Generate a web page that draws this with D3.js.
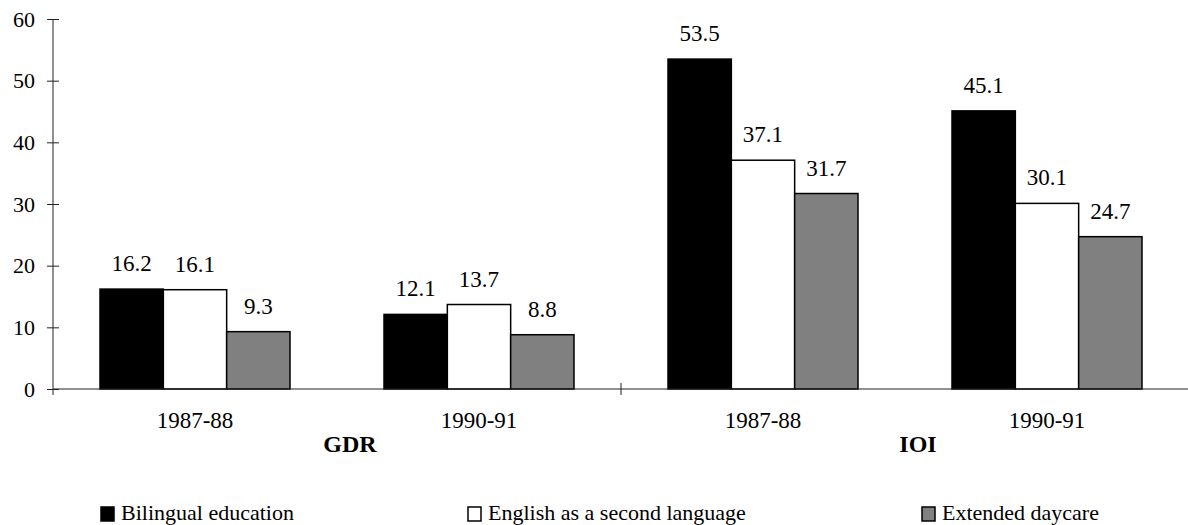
<!DOCTYPE html>
<html>
<head>
<meta charset="utf-8">
<script src="https://cdn.jsdelivr.net/npm/d3@7"></script>
<style>
  body { margin: 0; background: #fff; }
  text { font-family: "Liberation Serif", "Times New Roman", serif; fill: #000; }
</style>
</head>
<body>
<svg id="chart" width="1188" height="525"></svg>
<script>
	// data
	var programs = ["GDR", "IOI"];
	var years = ["1987-88", "1990-91"];
	var seriesNames = ["Bilingual education", "English as a second language", "Extended daycare"];
	var bilingual = [16.2, 12.1, 53.5, 45.1];
	var esl = [16.1, 13.7, 37.1, 30.1];
	var daycare = [9.3, 8.8, 31.7, 24.7];
	var yTicks = [0, 10, 20, 30, 40, 50, 60];

	var colors = ["#000000", "#ffffff", "#808080"];
	var seriesVals = [bilingual, esl, daycare];

	var groups = [];
	programs.forEach(function (p) {
		years.forEach(function (yr) { groups.push({program: p, year: yr, key: p + " " + yr}); });
	});

	var svg = d3.select("#chart");
	var plotLeft = 53, plotRight = 1189, plotTop = 19, base = 389;

	var x0 = d3.scaleBand()
		.domain(groups.map(function (g) { return g.key; }))
		.range([plotLeft, plotRight])
		.paddingInner(0.331)
		.paddingOuter(0.1655);

	var x1 = d3.scaleBand()
		.domain(d3.range(seriesNames.length))
		.range([0, x0.bandwidth()]);

	var y = d3.scaleLinear().domain([0, 60]).range([base, plotTop]);

	// y axis
	var yAxis = svg.append("g")
		.attr("transform", "translate(" + plotLeft + ",0)")
		.call(d3.axisLeft(y).tickValues(yTicks).tickSize(6).tickSizeOuter(0).tickPadding(12));
	yAxis.select(".domain").remove();
	yAxis.selectAll(".tick line").attr("x1", -6).attr("x2", 6).attr("stroke", "#222");
	yAxis.selectAll(".tick text")
		.style("font-size", "22px")
		.style("font-family", "'Liberation Serif', 'Times New Roman', serif");
	svg.append("line")
		.attr("x1", plotLeft).attr("x2", plotLeft)
		.attr("y1", plotTop).attr("y2", base + 6)
		.attr("stroke", "#222");

	// bars
	var gEnter = svg.selectAll(".group")
		.data(groups)
		.enter().append("g")
		.attr("class", "group")
		.attr("transform", function (d) { return "translate(" + x0(d.key) + ",0)"; });

	gEnter.selectAll("rect")
		.data(function (d, gi) { return seriesVals.map(function (s, si) { return {si: si, v: s[gi]}; }); })
		.enter().append("rect")
		.attr("x", function (d) { return x1(d.si); })
		.attr("y", function (d) { return y(d.v); })
		.attr("width", x1.bandwidth())
		.attr("height", function (d) { return base - y(d.v); })
		.style("fill", function (d) { return colors[d.si]; })
		.style("stroke", "#000")
		.style("stroke-width", 1.5);

	gEnter.selectAll(".val")
		.data(function (d, gi) { return seriesVals.map(function (s, si) { return {si: si, v: s[gi]}; }); })
		.enter().append("text")
		.attr("class", "val")
		.attr("x", function (d) { return x1(d.si) + x1.bandwidth() / 2; })
		.attr("y", function (d) { return y(d.v) - 18; })
		.attr("text-anchor", "middle")
		.style("font-size", "23px")
		.text(function (d) { return d.v.toFixed(1); });

	// x axis
	svg.append("line")
		.attr("x1", plotLeft).attr("x2", plotRight)
		.attr("y1", base).attr("y2", base)
		.attr("stroke", "#222");
	var mid = (x0(groups[1].key) + x0.bandwidth() + x0(groups[2].key)) / 2;
	svg.append("line")
		.attr("x1", mid).attr("x2", mid)
		.attr("y1", base - 6).attr("y2", base + 6)
		.attr("stroke", "#222");

	svg.selectAll(".cat")
		.data(groups)
		.enter().append("text")
		.attr("class", "cat")
		.attr("x", function (d) { return x0(d.key) + x0.bandwidth() / 2; })
		.attr("y", 428)
		.attr("text-anchor", "middle")
		.style("font-size", "23px")
		.text(function (d) { return d.year; });

	svg.selectAll(".prog")
		.data(programs)
		.enter().append("text")
		.attr("class", "prog")
		.attr("x", function (p) {
			var ks = groups.filter(function (g) { return g.program === p; });
			var a = x0(ks[0].key) + x0.bandwidth() / 2;
			var b = x0(ks[ks.length - 1].key) + x0.bandwidth() / 2;
			return (a + b) / 2 + 13;
		})
		.attr("y", 452)
		.attr("text-anchor", "middle")
		.style("font-size", "24px")
		.style("font-weight", "bold")
		.text(function (p) { return p; });

	// legend
	var legendX = [101, 468, 922];
	var legend = svg.selectAll(".leg")
		.data(seriesNames)
		.enter().append("g")
		.attr("class", "leg")
		.attr("transform", function (d, i) { return "translate(" + legendX[i] + ",507)"; });
	legend.append("rect")
		.attr("width", 13).attr("height", 14)
		.style("fill", function (d, i) { return colors[i]; })
		.style("stroke", "#000")
		.style("stroke-width", 1.5);
	legend.append("text")
		.attr("x", 20).attr("y", 13)
		.style("font-size", "22px")
		.text(function (d) { return d; });
</script>
</body>
</html>
